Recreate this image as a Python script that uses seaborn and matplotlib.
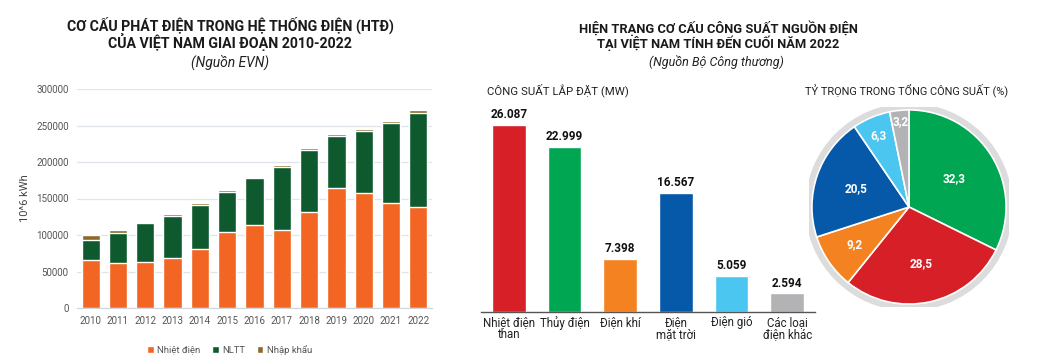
import numpy as np
import pandas as pd
import seaborn as sns
import matplotlib.pyplot as plt
from matplotlib.patches import Circle

# --- left chart: generation by source, 10^6 kWh ---
years = ['2010', '2011', '2012', '2013', '2014', '2015', '2016',
         '2017', '2018', '2019', '2020', '2021', '2022']
nhiet_dien = [66000, 62000, 63500, 68500, 81000, 104000, 114000,
              107000, 132000, 164000, 158000, 144000, 138000]
nltt = [27000, 41000, 52500, 57500, 60700, 54500, 63700,
        86600, 84000, 72000, 85000, 110000, 128700]
nhap_khau = [7000, 4000, 2000, 2800, 1700, 3200, 2300,
             1900, 3000, 3000, 2000, 2000, 4300]

# --- right chart: installed capacity 2022 ---
sources = ['Nhiệt điện\nthan', 'Thủy điện', 'Điện khí', 'Điện\nmặt trời',
           'Điện gió', 'Các loại\nđiện khác']
capacity_mw = [26087, 22999, 7398, 16567, 5059, 2594]
capacity_labels = ['26.087', '22.999', '7.398', '16.567', '5.059', '2.594']
source_colors = ['#D71F27', '#00A651', '#F58220', '#0559A8', '#4BC6F0', '#B3B3B5']

# pie, clockwise from the top
share_pct = [32.3, 28.5, 9.2, 20.5, 6.3, 3.2]
share_labels = ['32,3', '28,5', '9,2', '20,5', '6,3', '3,2']
share_colors = ['#00A651', '#D71F27', '#F58220', '#0559A8', '#4BC6F0', '#B3B3B5']

ORANGE = '#F26522'
GREEN = '#0E5A2E'
BROWN = '#8C6A2A'

sns.set_style('white')
plt.rcParams['font.family'] = ['Roboto', 'DejaVu Sans']

W, H = 1049, 364
fig = plt.figure(figsize=(W / 100, H / 100), dpi=100)


def box(x0, y0, x1, y1):
    # pixel box (top-left origin) -> figure fraction
    return [x0 / W, 1 - y1 / H, (x1 - x0) / W, (y1 - y0) / H]


# ---------------- left: stacked bars ----------------
ax1 = fig.add_axes(box(77, 89, 432, 308))
df = pd.DataFrame({'year': years, 'Nhiệt điện': nhiet_dien,
                   'NLTT': nltt, 'Nhập khẩu': nhap_khau})
df['top_green'] = df['Nhiệt điện'] + df['NLTT']
df['total'] = df['top_green'] + df['Nhập khẩu']

# overlap cumulative bars to get the stack
sns.barplot(data=df, x='year', y='total', color=BROWN, width=0.67,
            saturation=1, ax=ax1, label='Nhập khẩu')
sns.barplot(data=df, x='year', y='top_green', color=GREEN, width=0.67,
            saturation=1, ax=ax1, label='NLTT')
sns.barplot(data=df, x='year', y='Nhiệt điện', color=ORANGE, width=0.67,
            saturation=1, ax=ax1, label='Nhiệt điện')

ax1.set_ylim(0, 300000)
ax1.set_yticks(np.arange(0, 300001, 50000))
ax1.yaxis.grid(True, color='#dfe4ea', linewidth=0.9)
ax1.set_axisbelow(True)
for s in ['top', 'right', 'left']:
    ax1.spines[s].set_visible(False)
ax1.spines['bottom'].set_color('#d0d5dc')
ax1.tick_params(axis='both', length=0, labelsize=7, colors='#555555', pad=6)
ax1.set_xlabel('')
ax1.set_ylabel('10^6 kWh', fontsize=8, color='#444444', labelpad=4)

handles, labels = ax1.get_legend_handles_labels()
order = [labels.index(n) for n in ['Nhiệt điện', 'NLTT', 'Nhập khẩu']]
ax1.legend([handles[i] for i in order], [labels[i] for i in order],
           loc='center', bbox_to_anchor=(0.43, -0.19), ncol=3, frameon=False,
           fontsize=6.8, handlelength=0.7, handleheight=0.7, columnspacing=1.2,
           handletextpad=0.4, labelcolor='#555555')

fig.text(230 / W, 1 - 25 / H, 'CƠ CẤU PHÁT ĐIỆN TRONG HỆ THỐNG ĐIỆN (HTĐ)',
         ha='center', va='center', fontsize=10.2, fontweight='bold', color='#1a1a1a')
fig.text(230 / W, 1 - 42 / H, 'CỦA VIỆT NAM GIAI ĐOẠN 2010-2022',
         ha='center', va='center', fontsize=10.2, fontweight='bold', color='#1a1a1a')
fig.text(230 / W, 1 - 62 / H, '(Nguồn EVN)', ha='center', va='center',
         fontsize=10, style='italic', color='#222222')

# ---------------- right: capacity bars ----------------
ax2 = fig.add_axes(box(481, 106, 815, 312))
cap = pd.DataFrame({'source': sources, 'mw': capacity_mw})
sns.barplot(data=cap, x='source', y='mw', hue='source', palette=source_colors,
            width=0.6, saturation=1, legend=False, ax=ax2)
ax2.set_ylim(0, 26087 * 1.1)
ax2.set_yticks([])
for s in ['top', 'right', 'left']:
    ax2.spines[s].set_visible(False)
ax2.spines['bottom'].set_color('#555555')
ax2.spines['bottom'].set_linewidth(1.0)
ax2.set_xlabel('')
ax2.set_ylabel('')
ax2.tick_params(axis='x', length=0, pad=3)
for lab in ax2.get_xticklabels():
    lab.set_fontsize(8.3)
    lab.set_color('#222222')
    lab.set_linespacing(0.85)
for i, (v, t) in enumerate(zip(capacity_mw, capacity_labels)):
    ax2.text(i, v + 500, t, ha='center', va='bottom', fontsize=8.5,
             fontweight='bold', color='#111111')

fig.text(718 / W, 1 - 28 / H, 'HIỆN TRẠNG CƠ CẤU CÔNG SUẤT NGUỒN ĐIỆN',
         ha='center', va='center', fontsize=9.3, fontweight='bold', color='#1a1a1a')
fig.text(718 / W, 1 - 43 / H, 'TẠI VIỆT NAM TÍNH ĐẾN CUỐI NĂM 2022',
         ha='center', va='center', fontsize=9.3, fontweight='bold', color='#1a1a1a')
fig.text(716 / W, 1 - 62 / H, '(Nguồn Bộ Công thương)', ha='center', va='center',
         fontsize=9, style='italic', color='#222222')
fig.text(487 / W, 1 - 90 / H, 'CÔNG SUẤT LẮP ĐẶT (MW)', ha='left', va='center',
         fontsize=8.2, color='#222222')
fig.text(805 / W, 1 - 90 / H, 'TỶ TRỌNG TRONG TỔNG CÔNG SUẤT (%)', ha='left',
         va='center', fontsize=7.9, color='#222222')

# ---------------- pie ----------------
ax3 = fig.add_axes(box(809, 107, 1009, 307))
ax3.add_patch(Circle((0, 0), 1.07, facecolor='#dcdcdc', edgecolor='none', zorder=0))
wedges, _ = ax3.pie(share_pct, colors=share_colors, startangle=90,
                    counterclock=False, radius=1.0,
                    wedgeprops=dict(edgecolor='white', linewidth=1.2))
label_r = [0.55, 0.6, 0.68, 0.58, 0.8, 0.88]
ang = 90.0
for p, t, r in zip(share_pct, share_labels, label_r):
    mid = np.deg2rad(ang - p * 3.6 / 2)
    ang -= p * 3.6
    ax3.text(r * np.cos(mid), r * np.sin(mid), t, ha='center', va='center',
             color='white', fontsize=8.5, fontweight='bold')
ax3.set_xlim(-1.03, 1.03)
ax3.set_ylim(-1.03, 1.03)
ax3.set_aspect('equal')
ax3.axis('off')

fig.savefig('out.png', dpi=100)
